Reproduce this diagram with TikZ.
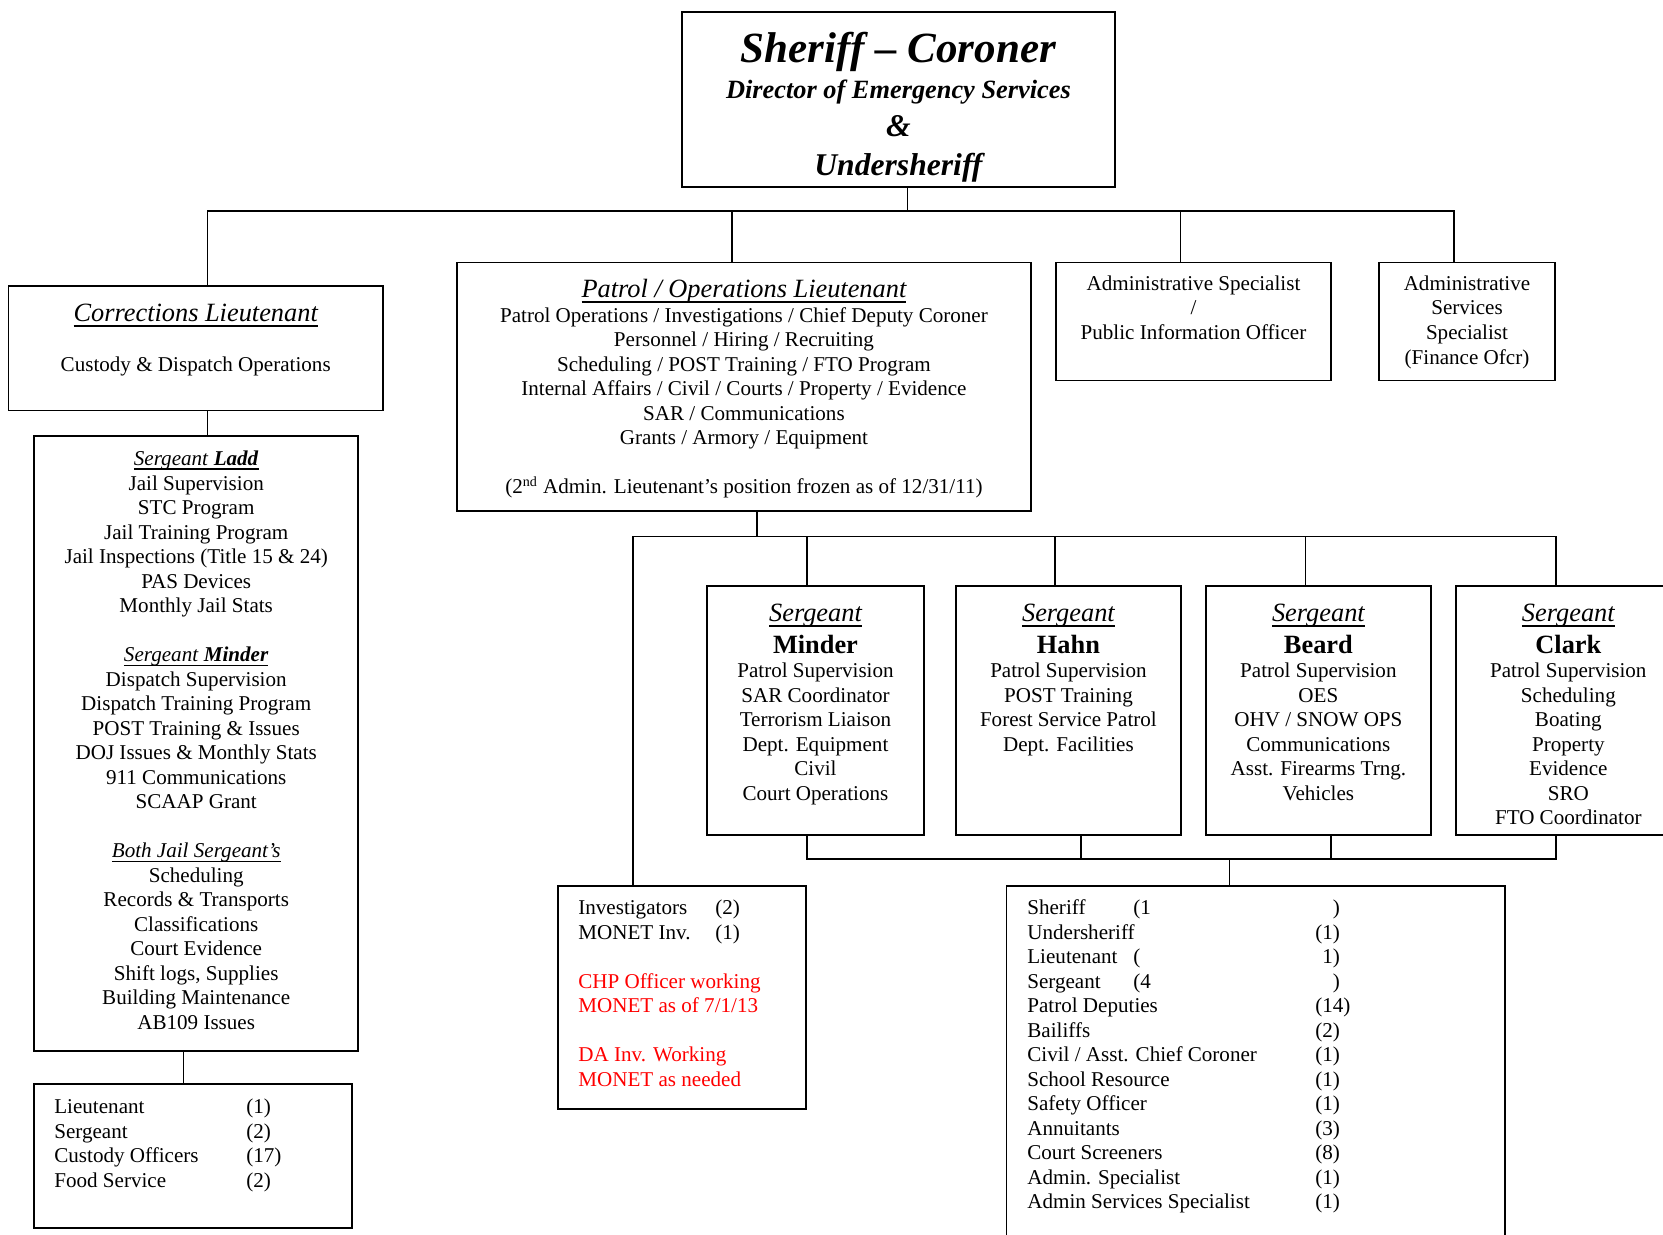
\documentclass[tikz,border=0pt]{standalone}
\usepackage{fontspec}
\setmainfont{Liberation Serif}
\usetikzlibrary{positioning}
\definecolor{note}{HTML}{FF0000}
\newcommand\headfont{\fontsize{15}{17}\selectfont\itshape}
% underline that sits close to the baseline
\newcommand\ulined[1]{\setbox0=\hbox{#1}\rlap{\rule[-0.2em]{\wd0}{0.06em}}\box0}

\begin{document}
\begin{tikzpicture}[x=0.02cm, y=-0.02cm, font=\fontsize{12}{13.95}\selectfont,
          box/.style={draw, line width=1.1pt, inner sep=0pt, outer sep=0pt, anchor=north west},
          sgt/.style={box, minimum width=4.5cm, minimum height=4.98cm},
          txt/.style={inner sep=0pt, align=center},
          lst/.style={inner sep=0pt, align=left},
          link/.style={line width=0.85pt}]
  \useasboundingbox (0,0) rectangle (1663,1234);
  \clip (0,0) rectangle (1663,1234);
  % sheriff at the top
  \node[box, minimum width=8.66cm, minimum height=3.5cm] (chief) at (682,12) {};
  \node[txt, below=0.40cm of chief.north, font=\bfseries\itshape\fontsize{15}{17.6}\selectfont] (chief-t)
       {{\fontsize{24.5}{28}\selectfont Sheriff -- Coroner}\\[3pt]
        Director of Emergency Services\\[4.1pt]
        {\fontsize{18}{21}\selectfont \&}\\[4.2pt]
        {\fontsize{18}{21}\selectfont Undersheriff}};
  % lieutenants and admin staff
  \node[box, minimum width=7.49cm, minimum height=2.49cm] (corr) at (8.5,286) {};
  \node[txt, below=0.35cm of corr.north] (corr-t)
       {{\headfont\ulined{Corrections Lieutenant}}\\[14.6pt]
        Custody \& Dispatch Operations};
  \node[box, minimum width=11.48cm, minimum height=4.98cm] (patrol) at (457,262.5) {};
  \node[txt, below=0.33cm of patrol.north] (patrol-t)
       {{\headfont\ulined{Patrol / Operations Lieutenant}}\\
        Patrol Operations / Investigations / Chief Deputy Coroner\\
        Personnel / Hiring / Recruiting\\
        Scheduling / POST Training / FTO Program\\
        Internal Affairs / Civil / Courts / Property / Evidence\\
        SAR / Communications\\
        Grants / Armory / Equipment\\[\baselineskip]
        (2\textsuperscript{nd} Admin. Lieutenant's position frozen as of 12/31/11)};
  \node[box, minimum width=5.5cm, minimum height=2.36cm] (adspec) at (1056,262.5) {};
  \node[txt, below=0.26cm of adspec.north] (adspec-t)
       {Administrative Specialist\\ /\\ Public Information Officer};
  \node[box, minimum width=3.52cm, minimum height=2.36cm] (adsvc) at (1379,262.5) {};
  \node[txt, below=0.26cm of adsvc.north] (adsvc-t)
       {Administrative\\ Services\\ Specialist\\ (Finance Ofcr)};
  % corrections side
  \node[box, minimum width=6.49cm, minimum height=12.3cm] (ladd) at (34,436) {};
  \node[txt, below=0.29cm of ladd.north] (ladd-t)
       {\ulined{\textit{Sergeant} \textbf{\textit{Ladd}}}\\
        Jail Supervision\\ STC Program\\ Jail Training Program\\
        Jail Inspections (Title 15 \& 24)\\ PAS Devices\\ Monthly Jail Stats\\[\baselineskip]
        \ulined{\textit{Sergeant} \textbf{\textit{Minder}}}\\
        Dispatch Supervision\\ Dispatch Training Program\\ POST Training \& Issues\\
        DOJ Issues \& Monthly Stats\\ 911 Communications\\ SCAAP Grant\\[\baselineskip]
        \ulined{\textit{Both Jail Sergeant's}}\\
        Scheduling\\ Records \& Transports\\ Classifications\\ Court Evidence\\
        Shift logs, Supplies\\ Building Maintenance\\ AB109 Issues};
  \node[box, minimum width=6.36cm, minimum height=2.88cm] (crew) at (34,1084) {};
  \node[lst, below right=0.29cm and 0.4cm of crew.north west] (crew-t)
       {\makebox[3.84cm][l]{Lieutenant}(1)\\
        \makebox[3.84cm][l]{Sergeant}(2)\\
        \makebox[3.84cm][l]{Custody Officers}(17)\\
        \makebox[3.84cm][l]{Food Service}(2)};
  % patrol sergeants
  \node[sgt, minimum width=4.34cm] (minder) at (707,586) {};
  \node[sgt, right=0.64cm of minder] (hahn) {};
  \node[sgt, right=0.5cm of hahn] (beard) {};
  \node[sgt, right=0.5cm of beard] (clark) {};
  \node[txt, below=0.35cm of minder.north] (minder-t)
       {{\headfont\ulined{Sergeant}}\\[4.2pt]
        {\fontsize{15}{17}\selectfont\bfseries Minder}\\
        Patrol Supervision\\ SAR Coordinator\\ Terrorism Liaison\\
        Dept. Equipment\\ Civil\\ Court Operations};
  \node[txt, below=0.35cm of hahn.north] (hahn-t)
       {{\headfont\ulined{Sergeant}}\\[4.2pt]
        {\fontsize{15}{17}\selectfont\bfseries Hahn}\\
        Patrol Supervision\\ POST Training\\ Forest Service Patrol\\ Dept. Facilities};
  \node[txt, below=0.35cm of beard.north] (beard-t)
       {{\headfont\ulined{Sergeant}}\\[4.2pt]
        {\fontsize{15}{17}\selectfont\bfseries Beard}\\
        Patrol Supervision\\ OES\\ OHV / SNOW OPS\\ Communications\\
        Asst. Firearms Trng.\\ Vehicles};
  \node[txt, below=0.35cm of clark.north] (clark-t)
       {{\headfont\ulined{Sergeant}}\\[4.2pt]
        {\fontsize{15}{17}\selectfont\bfseries Clark}\\
        Patrol Supervision\\ Scheduling\\ Boating\\ Property\\ Evidence\\ SRO\\ FTO Coordinator};
  % staffing counts
  \node[box, minimum width=4.96cm, minimum height=4.46cm] (inv) at (558,886) {};
  \node[lst, below right=0.27cm and 0.4cm of inv.north west] (inv-t)
       {\makebox[2.74cm][l]{Investigators}(2)\\
        \makebox[2.74cm][l]{MONET Inv.}(1)\\[\baselineskip]
        \textcolor{note}{CHP Officer working}\\
        \textcolor{note}{MONET as of 7/1/13}\\[\baselineskip]
        \textcolor{note}{DA Inv. Working}\\
        \textcolor{note}{MONET as needed}};
  \node[box, minimum width=9.97cm, minimum height=8cm] (staff) at (1006.5,886) {};
  \node[lst, below right=0.27cm and 0.41cm of staff.north west] (staff-t)
       {\makebox[2.12cm][l]{Sheriff}\makebox[3.64cm][l]{(1}\phantom{(1})\\
        \makebox[5.76cm][l]{Undersheriff}(1)\\
        \makebox[2.12cm][l]{Lieutenant}\makebox[3.64cm][l]{(}\phantom{(}1)\\
        \makebox[2.12cm][l]{Sergeant}\makebox[3.64cm][l]{(4}\phantom{(4})\\
        \makebox[5.76cm][l]{Patrol Deputies}(14)\\
        \makebox[5.76cm][l]{Bailiffs}(2)\\
        \makebox[5.76cm][l]{Civil / Asst. Chief Coroner}(1)\\
        \makebox[5.76cm][l]{School Resource}(1)\\
        \makebox[5.76cm][l]{Safety Officer}(1)\\
        \makebox[5.76cm][l]{Annuitants}(3)\\
        \makebox[5.76cm][l]{Court Screeners}(8)\\
        \makebox[5.76cm][l]{Admin. Specialist}(1)\\
        \makebox[5.76cm][l]{Admin Services Specialist}(1)};
  % reporting lines
  \draw[link] ([xshift=0.18cm]chief.south) -- ++(0,-0.48cm) coordinate (bus1);
  \foreach \n/\s in {corr/0.24, patrol/-0.24, adspec/-0.26, adsvc/-0.26}
    \draw[link] ([xshift=\s cm]\n.north) |- (bus1);
  \draw[link] ([xshift=0.24cm]corr.south) -- ([xshift=0.24cm]corr.south |- ladd.north);
  \draw[link] ([xshift=-0.25cm]ladd.south) -- ([xshift=-0.25cm]ladd.south |- crew.north);
  \draw[link] ([xshift=0.26cm]patrol.south) -- ++(0,-0.5cm) coordinate (bus2);
  \foreach \n/\s in {inv/-0.98, minder/-0.17, hahn/-0.27, beard/-0.26, clark/-0.25}
    \draw[link] ([xshift=\s cm]\n.north) |- (bus2);
  \draw[link] ([xshift=-0.52cm]staff.north) -- ++(0,0.54cm) coordinate (bus3);
  \foreach \n/\s in {minder/-0.17, hahn/0.25, beard/0.25, clark/-0.25}
    \draw[link] ([xshift=\s cm]\n.south) |- (bus3);
\end{tikzpicture}
\end{document}
